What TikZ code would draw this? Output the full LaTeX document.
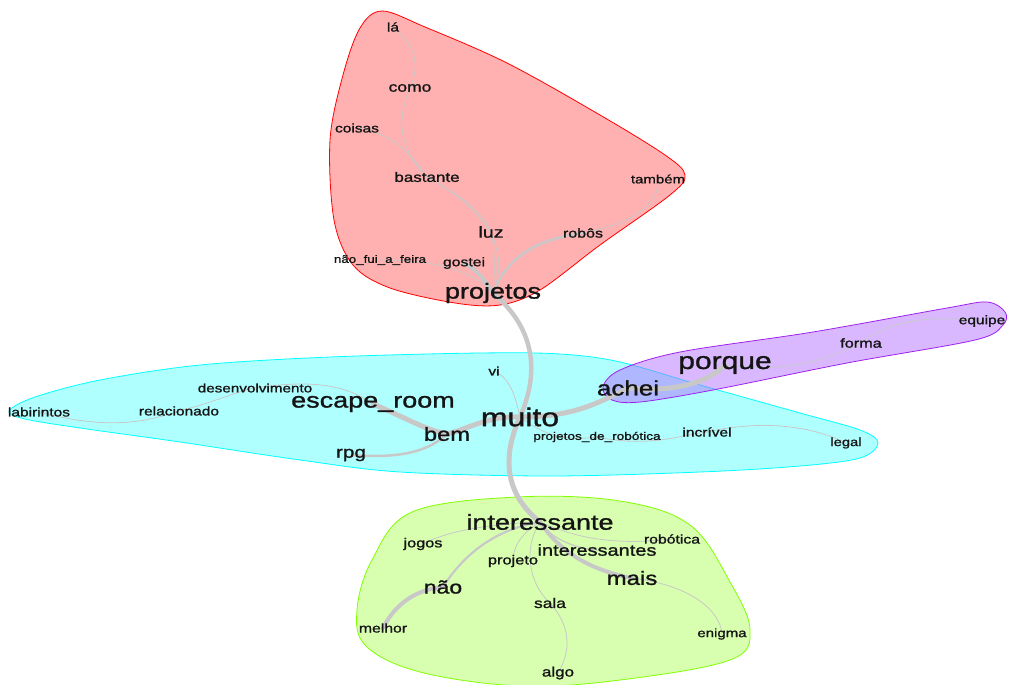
\documentclass[tikz,border=0pt]{standalone}
\usepackage{fontspec}
\setmainfont{Liberation Sans}[FakeStretch=1.25,FakeBold=1.2]
\definecolor{edgegray}{RGB}{200,200,200}
\definecolor{txt}{RGB}{20,20,20}
\definecolor{cyanc}{RGB}{0,255,255}
\definecolor{redc}{RGB}{255,0,0}
\definecolor{purpfill}{RGB}{175,105,255}
\definecolor{purpline}{RGB}{160,32,240}
\definecolor{limeline}{RGB}{128,255,0}
\pgfdeclarelayer{bg}
\pgfdeclarelayer{edges}
\pgfsetlayers{bg,edges,main}
\begin{document}
\begin{tikzpicture}[x=1pt,y=-1pt,
  wd/.style={font=\fontsize{#1}{#1}\selectfont, inner sep=0pt, text=txt},
  ed/.style={draw=edgegray, line width=#1, line cap=round},
  hull/.style={line width=0.8pt}]
\useasboundingbox (0,0) rectangle (1009,685);
% ---------- words ----------
\node[wd=12.4] (la) at (393,27) {lá};
\node[wd=14] (como) at (410,88) {como};
\node[wd=12.4] (coisas) at (357,128) {coisas};
\node[wd=13.6] (bastante) at (427,177) {bastante};
\node[wd=12] (tambem) at (658,179) {também};
\node[wd=15.7] (luz) at (491,232) {luz};
\node[wd=12.8] (robos) at (583,233) {robôs};
\node[wd=10.7] (naofui) at (380,260) {não\_fui\_a\_feira};
\node[wd=12.6] (gostei) at (464,263) {gostei};
\node[wd=21.6] (projetos) at (493,293) {projetos};
\node[wd=24] (porque) at (725,365) {porque};
\node[wd=13] (forma) at (861,343) {forma};
\node[wd=12.4] (equipe) at (982,321) {equipe};
\node[wd=12.4] (vi) at (494,371) {vi};
\node[wd=20.8] (achei) at (628,388) {achei};
\node[wd=12.2] (desenv) at (255,388) {desenvolvimento};
\node[wd=21.6] (escape) at (373,404) {escape\_room};
\node[wd=25.6] (muito) at (520,417) {muito};
\node[wd=12.4] (labir) at (39,412) {labirintos};
\node[wd=12.4] (relac) at (179,411) {relacionado};
\node[wd=19] (bem) at (447,434) {bem};
\node[wd=10.9] (pdr) at (597,437) {projetos\_de\_robótica};
\node[wd=12.4] (incrivel) at (707,432) {incrível};
\node[wd=11.8] (legal) at (846,443) {legal};
\node[wd=16.6] (rpg) at (351,455) {rpg};
\node[wd=21.6] (interessante) at (540,522) {interessante};
\node[wd=12.6] (robotica) at (672,539) {robótica};
\node[wd=13] (jogos) at (423,544) {jogos};
\node[wd=16] (interessantes) at (597,550) {interessantes};
\node[wd=13.1] (projeto) at (513,561) {projeto};
\node[wd=19.2] (mais) at (632,578) {mais};
\node[wd=18.4] (nao) at (443,587) {não};
\node[wd=13.9] (sala) at (550,603) {sala};
\node[wd=12.6] (melhor) at (383,628) {melhor};
\node[wd=12] (enigma) at (722,634) {enigma};
\node[wd=13.6] (algo) at (558,673) {algo};
% ---------- hulls ----------
\begin{pgfonlayer}{bg}
\filldraw[hull, draw=cyanc, fill=cyanc, fill opacity=0.31]
  plot[smooth cycle, tension=0.55] coordinates {(9,411) (35,397) (100,380) (200,365) (330,357) (480,353) (560,354) (620,362) (700,385) (800,413) (860,430) (878,443) (860,458) (800,466) (700,472) (550,476) (400,472) (300,460) (180,442) (80,428) (25,419)};
\filldraw[hull, draw=redc, fill=redc, fill opacity=0.31]
  plot[smooth cycle, tension=0.55] coordinates {(382,11) (425,27) (507,63) (600,115) (665,155) (685,175) (670,195) (600,245) (540,290) (500,305) (455,303) (390,288) (353,265) (334,220) (330,140) (343,75) (360,28)};
\filldraw[hull, draw=limeline, fill=limeline, fill opacity=0.31]
  plot[smooth cycle, tension=0.6] coordinates {(517,497) (620,501) (690,525) (730,582) (750,630) (730,660) (620,680) (520,686) (420,672) (366,646) (357,610) (372,560) (412,512)};
\filldraw[hull, draw=purpline, fill=purpfill, fill opacity=0.47]
  plot[smooth cycle, tension=0.55] coordinates {(603,387) (620,370) (680,352) (813,332) (947,308) (987,302) (1005,312) (1003,325) (975,340) (847,363) (713,390) (640,402) (612,400)};
\end{pgfonlayer}
% ---------- connectors ----------
\begin{pgfonlayer}{edges}
% blue/centre
\draw[ed=4.5] (projetos.center) .. controls (525,320) and (545,360) .. (muito.center);
\draw[ed=5] (muito.center) .. controls (505,450) and (500,490) .. (interessante.center);
\draw[ed=5] (muito.center) .. controls (570,417) and (595,405) .. (achei.center);
\draw[ed=5] (achei.center) .. controls (670,392) and (705,385) .. (porque.center);
\draw[ed=0.8] (porque.center) .. controls (790,372) and (820,362) .. (forma.center);
\draw[ed=0.8] (forma.center) .. controls (890,320) and (930,315) .. (equipe.center);
\draw[ed=5] (muito.center) .. controls (490,415) and (465,430) .. (bem.center);
\draw[ed=5] (bem.center) .. controls (425,430) and (400,415) .. (escape.center);
\draw[ed=2.5] (rpg.center) .. controls (390,458) and (425,455) .. (bem.center);
\draw[ed=0.8] (desenv.center) .. controls (320,378) and (350,388) .. (escape.center);
\draw[ed=0.8] (relac.center) .. controls (215,402) and (235,392) .. (desenv.center);
\draw[ed=0.8] (labir.center) .. controls (90,425) and (130,428) .. (relac.center);
\draw[ed=0.8] (vi.center) .. controls (510,378) and (515,395) .. (muito.center);
\draw[ed=0.8] (muito.center) .. controls (540,432) and (560,442) .. (pdr.center);
\draw[ed=0.8] (pdr.center) .. controls (650,448) and (680,435) .. (incrivel.center);
\draw[ed=0.8] (incrivel.center) .. controls (760,420) and (810,425) .. (legal.center);
% red
\draw[ed=4] (projetos.center) .. controls (485,280) and (475,268) .. (gostei.center);
\draw[ed=0.8] (naofui.center) .. controls (430,260) and (470,268) .. (projetos.center);
\draw[ed=0.8] (projetos.center) .. controls (495,270) and (495,250) .. (luz.center);
\draw[ed=0.8] (bastante.center) .. controls (470,200) and (515,240) .. (projetos.center);
\draw[ed=0.8] (luz.center) .. controls (480,210) and (460,195) .. (bastante.center);
\draw[ed=0.8] (como.center) .. controls (398,117) and (396,145) .. (bastante.center);
\draw[ed=0.8] (la.center) .. controls (420,50) and (418,70) .. (como.center);
\draw[ed=0.8] (coisas.center) .. controls (385,132) and (405,145) .. (bastante.center);
\draw[ed=2.5] (projetos.center) .. controls (505,262) and (530,240) .. (robos.center);
\draw[ed=0.8] (robos.center) .. controls (640,222) and (660,200) .. (tambem.center);
% green
\draw[ed=0.8] (interessante.center) .. controls (470,525) and (440,535) .. (jogos.center);
\draw[ed=2.2] (interessante.center) .. controls (490,530) and (460,560) .. (nao.center);
\draw[ed=4] (nao.center) .. controls (410,590) and (392,610) .. (melhor.center);
\draw[ed=0.8] (interessante.center) .. controls (518,535) and (513,550) .. (projeto.center);
\draw[ed=0.8] (interessante.center) .. controls (522,550) and (530,585) .. (sala.center);
\draw[ed=0.8] (sala.center) .. controls (570,625) and (572,650) .. (algo.center);
\draw[ed=4] (interessante.center) .. controls (560,552) and (590,570) .. (mais.center);
\draw[ed=0.8] (mais.center) .. controls (690,585) and (720,610) .. (enigma.center);
\draw[ed=0.8] (interessante.center) .. controls (580,540) and (620,545) .. (robotica.center);
\draw[ed=1.2] (interessante.center) .. controls (548,535) and (570,548) .. (interessantes.center);
\end{pgfonlayer}
\end{tikzpicture}
\end{document}
